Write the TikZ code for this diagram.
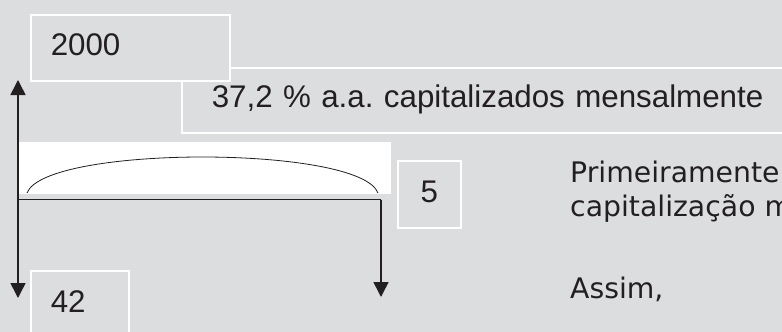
\documentclass[tikz,border=0pt]{standalone}
\usepackage{fontspec}
\setmainfont{Liberation Sans}
\newfontfamily\notefont{DejaVu Sans}
\usetikzlibrary{arrows.meta}
\definecolor{panelgray}{RGB}{220,221,223}
\definecolor{inkblack}{RGB}{35,31,32}
\tikzset{
  valbox/.style={draw=white, line width=1.5pt, fill=panelgray, text=inkblack,
    anchor=north west, inner xsep=20pt, inner ysep=10pt, align=left,
    text height=31pt, text depth=15pt, font=\fontsize{31.3}{36}\selectfont},
  notetext/.style={anchor=base west, inner sep=0pt, text=inkblack,
    font=\notefont\fontsize{28.3}{34}\selectfont},
  flow/.style={line width=1.6pt, inkblack, -{Triangle[width=15pt,length=15pt]}},
}

\begin{document}
\begin{tikzpicture}[x=1pt, y=-1pt]
  % background
  \fill[panelgray] (0,0) rectangle (782,332);
  \useasboundingbox (0,0) rectangle (782,332);
  \fill[white] (18,142) rectangle (391,194);

  % boxes with the values
  \node[valbox, inner xsep=30pt, text width=560pt, text height=30pt] (rate) at (181,67) {37,2 \% a.a.\ capitalizados mensalmente};
  \node[valbox, text width=159pt] (pv) at (30,14) {2000};
  \node[valbox, inner xsep=0pt, minimum width=63pt, align=center, text height=32pt, text depth=15pt] (term) at (397,160) {5};
  \node[valbox, text width=58pt, text height=32pt, text depth=23pt] (pmt) at (30,270) {42};

  % time line
  \coordinate (start) at (18,199.5);
  \coordinate (end) at (381,199.5);
  \coordinate (inflow) at (18,80);
  \coordinate (outstart) at (18,298);
  \coordinate (outend) at (381,297);
  \coordinate (arcL) at (27,193);
  \coordinate (arcR) at (378,193);

  \draw[inkblack, line width=0.8pt] (arcL) .. controls (45,145) and (360,145) .. (arcR);
  \draw[inkblack, line width=1.6pt] (start) -- (end);
  \draw[flow] (start) -- (inflow);
  \draw[flow] (start) -- (outstart);
  \draw[flow] (end) -- (outend);

  % explanation
  \node[notetext] (note1) at (570,182) {Primeiramente};
  \node[notetext] (note2) at (570,216) {capitalização m};
  \node[notetext] (note3) at (570,298) {Assim,};
\end{tikzpicture}
\end{document}
